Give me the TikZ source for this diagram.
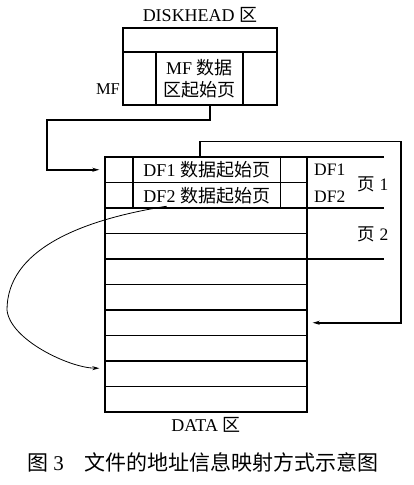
\documentclass[tikz,border=0pt]{standalone}
\usepackage{fontspec}
\setmainfont{Liberation Serif}
\newfontfamily\cjk{Noto Sans CJK SC}
\usetikzlibrary{arrows.meta}
\begin{document}
\begin{tikzpicture}[x=1pt,y=-1pt,
  box/.style={draw,line width=1.5pt,inner sep=0pt},
  rowbox/.style={draw,line width=1.4pt,inner sep=0pt,minimum width=202pt,minimum height=25.5pt},
  lbl/.style={inner sep=0pt,font=\fontsize{17.5}{19}\selectfont},
  big/.style={inner sep=0pt,font=\fontsize{18}{20}\selectfont},
  conn/.style={line width=1.5pt,-{Stealth[length=7pt,width=4pt]},shorten >=5pt},
  curve/.style={line width=0.8pt,-{Stealth[length=7pt,width=4pt]},shorten >=5pt}]
\useasboundingbox (0,0) rectangle (414,485);
% DISKHEAD area
\node[big] (dhl) at (200,15) {DISKHEAD {\cjk 区}};
\node[box,minimum width=154pt,minimum height=77pt] (dh) at (200,66.5) {};
\draw[line width=1.5pt] (123,52) -- (277,52);
\node[box,minimum width=87pt,minimum height=53pt,align=center,font=\fontsize{18}{22}\selectfont] (mf) at (199.5,78.5) {MF {\cjk 数据}\\{\cjk 区起始页}};
\node[inner sep=0pt,font=\fontsize{16.5}{18}\selectfont] (mfl) at (108,89) {MF};
% DATA rows
\foreach \i in {1,...,10}{
  \node[rowbox] (r\i) at (206,{157+25.5*(\i-0.5)}) {};
}
\node[big,minimum width=147.5pt,minimum height=25.5pt] (df1) at (206.75,169.75) {DF1 {\cjk 数据起始页}};
\node[big,minimum width=147.5pt,minimum height=25.5pt] (df2) at (206.75,195.25) {DF2 {\cjk 数据起始页}};
\draw[line width=1.4pt] (133,157) -- (133,208) (280.5,157) -- (280.5,208);
% right column
\draw[line width=1.4pt] (307,157) -- (384,157) (307,208) -- (384,208) (307,259) -- (384,259);
\node[lbl,anchor=west] (t1) at (314,170) {DF1};
\node[lbl,anchor=west] (t2) at (314,196.5) {DF2};
\node[lbl] (p1) at (373,184) {{\cjk 页} 1};
\node[lbl] (p2) at (373,234) {{\cjk 页} 2};
\node[big] (datal) at (206,425) {DATA {\cjk 区}};
% connectors
\coordinate (mfs) at ([xshift=10.5pt]mf.south);
\coordinate (k1) at (47,120);
\draw[conn] (mfs) -- (mfs |- k1) -- (k1) -- (k1 |- r1.west) -- (r1.west);
\coordinate (r1n) at ([xshift=-6pt]r1.north);
\coordinate (k2) at (401,141.5);
\draw[conn] (r1n) -- (r1n |- k2) -- (k2) -- (k2 |- r7.east) -- (r7.east);
\coordinate (cs) at ([xshift=-40pt,yshift=2pt]df2.south);
\coordinate (ce) at ([yshift=5.5pt]r9.west);
\draw[curve] (cs) .. controls (80,220) and (7,250) .. (7,310) .. controls (10,340) and (70,368) .. (ce);
% caption
\node[inner sep=0pt,anchor=west,font=\fontsize{21}{23}\selectfont] (cap) at (27,462) {{\cjk 图} 3\hspace{21pt}{\cjk 文件的地址信息映射方式示意图}};
\end{tikzpicture}
\end{document}
